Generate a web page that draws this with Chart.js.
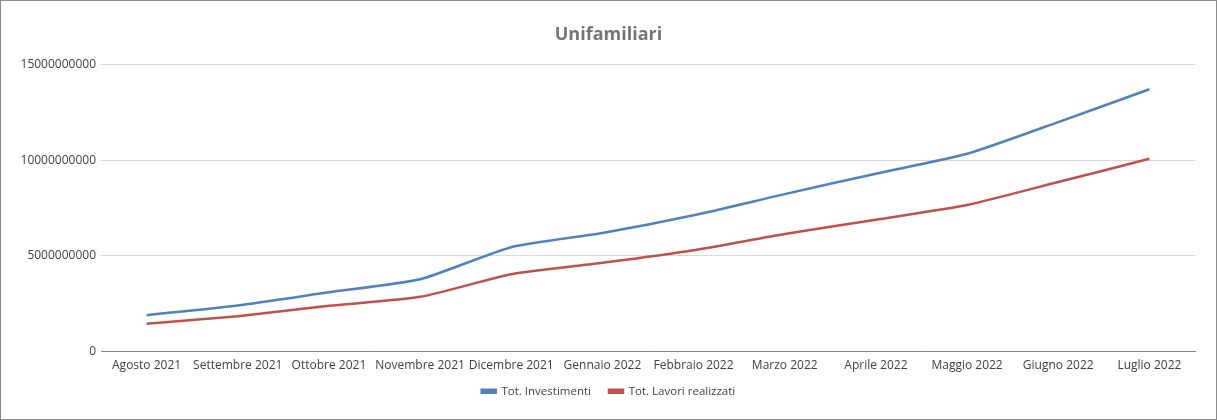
<!DOCTYPE html>
<html>
<head>
<meta charset="utf-8">
<script src="https://cdn.jsdelivr.net/npm/chart.js@4"></script>
<style>
  html, body { margin: 0; padding: 0; background: #fff; }
  #frame { width: 1215px; height: 418px; border: 1px solid #8c8c8c; position: relative; }
  #chart { display: block; }
</style>
</head>
<body>
<div id="frame"><canvas id="chart" width="1215" height="418"></canvas></div>
<script>
// categories
const months = [
  'Agosto 2021', 'Settembre 2021', 'Ottobre 2021', 'Novembre 2021', 'Dicembre 2021',
  'Gennaio 2022', 'Febbraio 2022', 'Marzo 2022', 'Aprile 2022', 'Maggio 2022',
  'Giugno 2022', 'Luglio 2022'
];

// series values
const totInvestimenti = [
  1880000000, 2390000000, 3080000000, 3760000000, 5440000000, 6180000000,
  7110000000, 8220000000, 9290000000, 10330000000, 11990000000, 13710000000
];
const totLavori = [
  1430000000, 1830000000, 2370000000, 2840000000, 4020000000, 4620000000,
  5280000000, 6130000000, 6880000000, 7650000000, 8850000000, 10070000000
];

// y ticks
const yTicks = [0, 5000000000, 10000000000, 15000000000];

const FONT = "'Open Sans', 'Noto Sans', sans-serif";
const BLUE = '#4f81bd';
const RED  = '#c0504d';
const RIGHT_PAD = 21;

// legend padding also sets the gap between items; pull the box up afterwards.
// title + legend are re-centred on the whole canvas (right padding shifts them)
const boxNudge = {
  id: 'boxNudge',
  afterLayout(chart) {
    const dx = RIGHT_PAD / 2;
    const lg = chart.legend;
    if (lg) {
      lg.top -= 12;
      lg.bottom -= 12;
      lg.left += dx;
      lg.right += dx;
    }
    const tb = chart.titleBlock;
    if (tb) {
      tb.left += dx;
      tb.right += dx;
    }
  },
};

new Chart(document.getElementById('chart'), {
  type: 'line',
  data: {
    labels: months,
    datasets: [
      {
        label: 'Tot. Investimenti',
        data: totInvestimenti,
        borderColor: BLUE,
        backgroundColor: BLUE,
        borderWidth: 2.5,
        tension: 0.2,
        pointRadius: 0,
        fill: false,
      },
      {
        label: 'Tot. Lavori realizzati',
        data: totLavori,
        borderColor: RED,
        backgroundColor: RED,
        borderWidth: 2.5,
        tension: 0.2,
        pointRadius: 0,
        fill: false,
      },
    ],
  },
  plugins: [boxNudge],
  options: {
    responsive: false,
    animation: false,
    layout: { padding: { left: 0, right: RIGHT_PAD, top: 0, bottom: 0 } },
    plugins: {
      title: {
        display: true,
        text: 'Unifamiliari',
        color: '#757575',
        font: { family: FONT, size: 18, weight: 'bold' },
        padding: { top: 23, bottom: 19 },
      },
      legend: {
        position: 'bottom',
        labels: {
          color: '#404040',
          font: { family: FONT, size: 11.5 },
          boxWidth: 14,
          boxHeight: 3,
          padding: 18,
        },
      },
      tooltip: { enabled: false },
    },
    scales: {
      x: {
        offset: true,
        grid: { display: false, drawTicks: false },
        border: { display: true, color: '#868686', width: 1 },
        ticks: {
          color: '#404040',
          font: { family: FONT, size: 12 },
          maxRotation: 0,
          autoSkip: false,
          padding: 7,
        },
      },
      y: {
        min: 0,
        max: 15000000000,
        afterFit(scale) { scale.width = 100; },
        afterBuildTicks(scale) { scale.ticks = yTicks.map((v) => ({ value: v })); },
        grid: { color: '#d9d9d9', drawTicks: false, lineWidth: 1 },
        border: { display: false },
        ticks: {
          color: '#404040',
          font: { family: FONT, size: 12 },
          padding: 5,
          callback: (v) => String(v),
        },
      },
    },
  },
});
</script>
</body>
</html>
